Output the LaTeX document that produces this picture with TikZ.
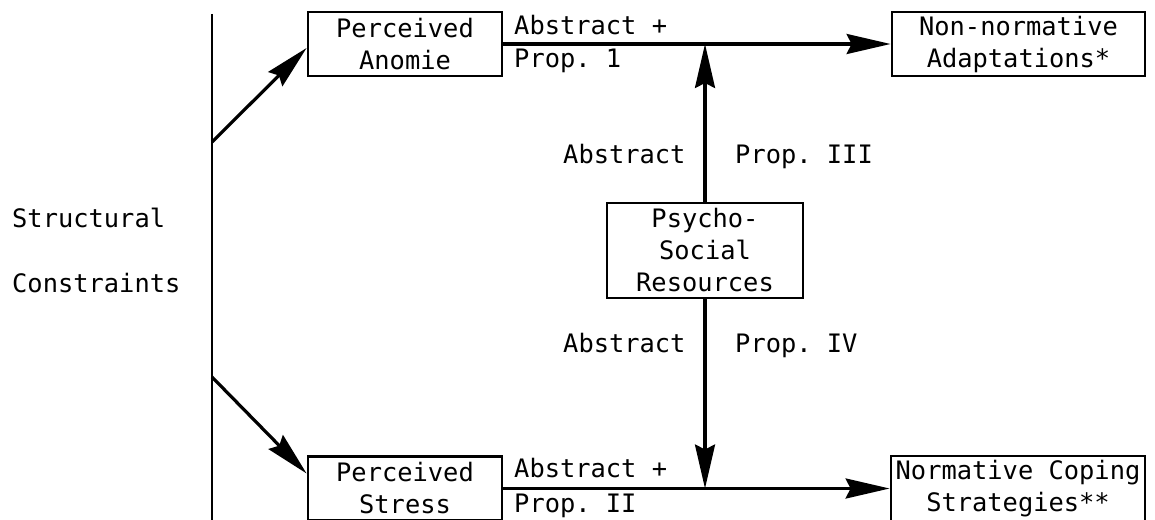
\documentclass[tikz,border=0pt]{standalone}
\usepackage{fontspec}
\setmonofont{DejaVu Sans Mono}
\usetikzlibrary{arrows.meta}
\newcommand{\gothfont}{\ttfamily\fontsize{25.4}{32}\selectfont}
\tikzset{%
    box/.style={draw, line width=2.8pt, inner sep=2pt, align=center, font=\gothfont},
    lbl/.style={anchor=base west, inner sep=0pt, font=\gothfont},
    pri/.style={line width=2.8pt},
    pra/.style={line width=3.2pt, -{Stealth[length=44pt, width=20pt, inset=5pt]}}
}

\begin{document}
\begin{tikzpicture}[x=1pt,y=-1pt]
    \useasboundingbox (0,0) rectangle (1155,519);
    % boxes
    \node[box, minimum width=194pt, minimum height=64pt] (anomie) at (405,44) {Perceived\\Anomie};
    \node[box, minimum width=253pt, minimum height=64pt] (nonnorm) at (1018.5,44) {Non-normative\\ Adaptations*};
    \node[box, minimum width=196pt, minimum height=95pt] (psycho) at (705,250.5) {Psycho-\\Social\\Resources};
    \node[box, minimum width=194pt, minimum height=64pt] (stress) at (405,488.5) {Perceived\\Stress};
    \node[box, minimum width=254pt, minimum height=65pt] (coping) at (1018,488.5) {Normative Coping\\Strategies**};
    % left side
    \node[lbl] (struct) at (12,227) {Structural};
    \node[lbl] (constr) at (12,292) {Constraints};
    \coordinate (ltop) at (212,14);
    \coordinate (lbot) at (212,530);
    \draw [pri] (ltop) -- (lbot);
    \coordinate (sa) at (212,142);
    \coordinate (sb) at (212,377);
    \draw [pra] (sa) -- ([yshift=-4pt]anomie.west);
    \draw [pra] (sb) -- ([yshift=15pt]stress.west);
    % horizontal paths
    \draw [pra] (anomie.east) -- (nonnorm.west);
    \draw [pra] (stress.east) -- (coping.west);
    \draw [pra] (psycho.north) -- (psycho.north |- anomie.east);
    \draw [pra] (psycho.south) -- (psycho.south |- stress.east);
    % labels
    \node[lbl] (abs1) at (514,35) {Abstract +};
    \node[lbl] (prop1) at (514,67) {Prop. 1};
    \node[lbl] (abs2) at (514,477) {Abstract +};
    \node[lbl] (prop2) at (514,512) {Prop. II};
    \node[lbl] (abs3) at (563,163) {Abstract};
    \node[lbl] (prop3) at (735,163) {Prop. III};
    \node[lbl] (abs4) at (563,352) {Abstract};
    \node[lbl] (prop4) at (735,352) {Prop. IV};
\end{tikzpicture}
\end{document}
